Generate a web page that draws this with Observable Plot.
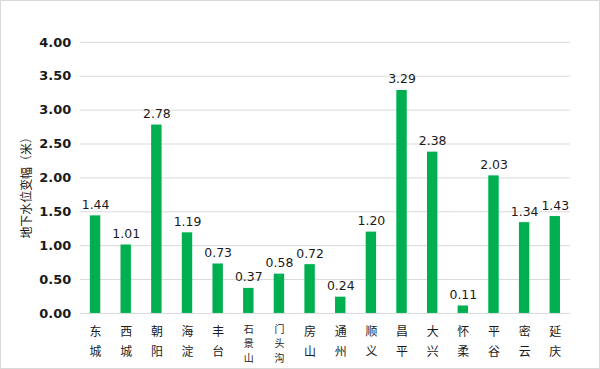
<!DOCTYPE html>
<html><head><meta charset="utf-8">
<script src="https://cdn.jsdelivr.net/npm/d3@7"></script>
<script src="https://cdn.jsdelivr.net/npm/@observablehq/plot@0.6"></script>
<style>
html,body{margin:0;padding:0;background:#fff;}
#chart{width:600px;height:369px;box-sizing:border-box;border:1px solid #d9d9d9;position:relative;overflow:hidden;background:#fff;}
#chart svg{position:absolute;left:-1px;top:-1px;}
</style></head>
<body><div id="chart"></div>
<script>
const districts = ["东城","西城","朝阳","海淀","丰台","石景山","门头沟","房山","通州","顺义","昌平","大兴","怀柔","平谷","密云","延庆"];
const values = [1.44,1.01,2.78,1.19,0.73,0.37,0.58,0.72,0.24,1.20,3.29,2.38,0.11,2.03,1.34,1.43];
const yTicks = [0,0.5,1,1.5,2,2.5,3,3.5,4];
const yTitle = "地下水位变幅（米）";

const data = districts.map((d,i)=>({d, v: values[i], lab: d.split("").join("\n")}));
const font = "DejaVu Sans, 'Noto Sans CJK SC', sans-serif";
const cjk = "'Noto Sans CJK SC', sans-serif";

const plot = Plot.plot({
  width: 600, height: 369,
  marginLeft: 80, marginRight: 28, marginTop: 42, marginBottom: 55,
  style: {fontFamily: font, background: "transparent"},
  x: {domain: districts, paddingInner: 0.66, paddingOuter: 0.33, round: false, axis: null},
  y: {domain: [0,4], ticks: yTicks, axis: null},
  marks: [
    Plot.gridY(yTicks, {stroke: "#d9d9d9", strokeOpacity: 1, strokeWidth: 1}),
    Plot.barY(data, {x: "d", y: "v", fill: "#00b050"}),
    Plot.axisY(yTicks, {tickFormat: d3.format(".2f"), tickSize: 0, tickPadding: 9, fontSize: 13, fontWeight: "bold", fill: "#1a1a1a", label: null}),
    Plot.text(data, {x: "d", y: "v", text: d => d.v.toFixed(2), lineAnchor: "bottom", dy: -7, fontSize: 12.5, fill: "#1a1a1a"}),
    Plot.text(data.filter(d=>d.d.length===2), {x: "d", y: 0, text: "lab", lineAnchor: "top", dy: 9, lineHeight: 1.65, fontSize: 12, fill: "#1a1a1a", fontFamily: cjk}),
    Plot.text(data.filter(d=>d.d.length===3), {x: "d", y: 0, text: "lab", lineAnchor: "top", dy: 9, lineHeight: 1.46, fontSize: 10, fill: "#1a1a1a", fontFamily: cjk}),
    Plot.text([yTitle], {frameAnchor: "left", textAnchor: "middle", dx: -53, dy: 7, rotate: -90, text: d => d, fontSize: 12, fill: "#1a1a1a", fontFamily: cjk})
  ]
});
document.getElementById("chart").appendChild(plot);
</script></body></html>
